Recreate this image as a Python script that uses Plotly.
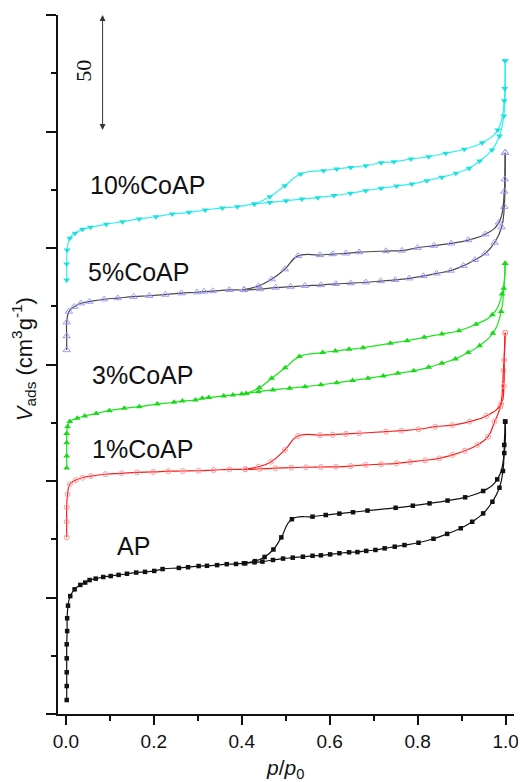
import plotly.graph_objects as go

# ---------------- data (p/p0, V_ads in cm3/g, offset curves) ----------------
ap_ads_x = [0.002, 0.002, 0.002, 0.002, 0.002, 0.003, 0.003, 0.005, 0.010, 0.020, 0.033, 0.044,
            0.054, 0.068, 0.085, 0.102, 0.120, 0.139, 0.160, 0.180, 0.201, 0.220, 0.257, 0.278,
            0.302, 0.321, 0.344, 0.366, 0.387, 0.408, 0.429, 0.447, 0.471, 0.494, 0.516, 0.539,
            0.561, 0.580, 0.601, 0.622, 0.644, 0.663, 0.683, 0.704, 0.725, 0.748, 0.770, 0.802,
            0.836, 0.867, 0.898, 0.924, 0.949, 0.970, 0.986, 0.994, 0.997, 0.999]
ap_ads_y = [6.0, 12.0, 17.9, 23.9, 29.9, 35.6, 41.1, 46.5, 50.6, 53.5, 55.4, 56.4,
            57.5, 58.1, 58.8, 59.2, 59.7, 60.2, 60.7, 61.0, 61.4, 62.2, 62.7, 63.0,
            63.5, 63.6, 63.9, 64.3, 64.4, 64.7, 65.1, 65.4, 66.1, 66.7, 67.1, 67.5,
            67.9, 68.1, 68.5, 69.0, 69.4, 69.5, 70.0, 70.4, 71.1, 71.8, 72.5, 73.5,
            75.2, 77.3, 79.7, 82.5, 86.1, 91.1, 97.1, 104.3, 115.5, 125.5]
ap_des_x = [0.999, 0.997, 0.981, 0.949, 0.908, 0.868, 0.827, 0.789, 0.750, 0.686, 0.653,
            0.622, 0.591, 0.561, 0.514, 0.490, 0.472, 0.452, 0.430, 0.405]
ap_des_y = [125.5, 112.0, 100.7, 95.7, 93.0, 91.6, 90.4, 89.4, 88.5, 87.3, 86.6,
            86.0, 85.4, 84.7, 83.6, 75.8, 70.6, 67.4, 65.6, 64.7]

co1_ads_x = [0.002, 0.002, 0.002, 0.004, 0.009, 0.023, 0.038, 0.057, 0.090, 0.127, 0.162, 0.199,
             0.233, 0.266, 0.302, 0.336, 0.372, 0.408, 0.441, 0.477, 0.513, 0.546, 0.580, 0.614,
             0.648, 0.682, 0.717, 0.752, 0.783, 0.817, 0.849, 0.879, 0.907, 0.936, 0.960, 0.975,
             0.988, 0.995, 0.999]
co1_ads_y = [75.8, 82.5, 88.7, 94.3, 98.6, 100.4, 101.4, 102.1, 102.9, 103.3, 103.7, 103.9,
             104.2, 104.3, 104.4, 104.7, 105.0, 105.0, 105.2, 105.5, 105.7, 105.9, 106.0, 106.1,
             106.4, 106.9, 107.2, 107.6, 108.2, 108.9, 109.7, 111.2, 113.0, 115.5, 119.0, 125.5,
             131.9, 147.3, 163.6]
co1_des_x = [0.999, 0.997, 0.996, 0.990, 0.956, 0.918, 0.879, 0.840, 0.802, 0.763, 0.728,
             0.667, 0.637, 0.607, 0.578, 0.528, 0.498, 0.467, 0.438, 0.408]
co1_des_y = [163.6, 151.9, 140.8, 133.1, 127.9, 125.5, 124.0, 123.3, 122.2, 121.6, 121.2,
             120.5, 120.2, 119.9, 119.7, 119.3, 113.3, 108.3, 106.1, 105.1]

co3_ads_x = [0.002, 0.002, 0.002, 0.002, 0.004, 0.009, 0.026, 0.043, 0.069, 0.099, 0.133, 0.167,
             0.208, 0.246, 0.265, 0.295, 0.310, 0.325, 0.359, 0.380, 0.400, 0.438, 0.471, 0.509,
             0.544, 0.580, 0.616, 0.652, 0.687, 0.722, 0.755, 0.791, 0.825, 0.855, 0.886, 0.915,
             0.941, 0.971, 0.990, 0.996, 0.999]
co3_ads_y = [105.6, 110.7, 116.4, 120.4, 123.3, 125.5, 126.9, 127.9, 129.0, 130.2, 131.2, 131.9,
             133.0, 133.8, 134.3, 134.8, 135.5, 135.8, 136.5, 136.9, 137.3, 138.3, 139.1, 139.8,
             140.5, 141.3, 142.2, 143.1, 144.1, 145.1, 146.2, 147.3, 148.8, 150.5, 152.4, 155.1,
             158.1, 163.4, 172.7, 182.7, 193.4]
co3_des_x = [0.999, 0.992, 0.970, 0.933, 0.894, 0.855, 0.815, 0.776, 0.738, 0.676, 0.644,
             0.613, 0.584, 0.531, 0.499, 0.468, 0.440, 0.410]
co3_des_y = [193.4, 180.3, 171.3, 167.3, 164.5, 163.1, 161.7, 160.2, 159.1, 157.2, 156.5,
             155.8, 155.1, 153.4, 148.6, 144.1, 140.0, 137.6]

co5_ads_x = [0.002, 0.002, 0.002, 0.007, 0.019, 0.034, 0.054, 0.087, 0.118, 0.154, 0.190, 0.226,
             0.263, 0.298, 0.314, 0.334, 0.372, 0.405, 0.441, 0.477, 0.511, 0.544, 0.580, 0.614,
             0.648, 0.682, 0.716, 0.749, 0.781, 0.813, 0.843, 0.875, 0.904, 0.930, 0.954, 0.975,
             0.991, 0.997, 0.999]
co5_ads_y = [156.2, 162.2, 168.1, 172.7, 174.8, 176.3, 177.0, 178.0, 178.5, 179.1, 179.5, 180.0,
             180.6, 181.0, 181.3, 181.5, 182.0, 182.0, 182.4, 183.0, 183.4, 183.8, 184.1, 184.6,
             184.9, 185.3, 185.8, 186.3, 187.0, 188.0, 189.1, 190.3, 192.4, 194.9, 197.7, 202.3,
             208.9, 217.7, 240.9]
co5_des_x = [0.999, 0.998, 0.997, 0.985, 0.954, 0.915, 0.876, 0.837, 0.800, 0.764, 0.728,
             0.667, 0.637, 0.607, 0.578, 0.528, 0.498, 0.468, 0.438, 0.405]
co5_des_y = [240.9, 229.5, 224.2, 211.0, 205.9, 203.4, 202.0, 201.0, 200.1, 198.9, 198.7,
             198.2, 197.7, 197.4, 197.0, 196.6, 190.9, 186.6, 183.7, 182.1]

co10_ads_x = [0.002, 0.002, 0.003, 0.009, 0.021, 0.038, 0.056, 0.092, 0.129, 0.167, 0.205, 0.242,
              0.280, 0.317, 0.356, 0.390, 0.429, 0.464, 0.501, 0.537, 0.573, 0.610, 0.647, 0.682,
              0.717, 0.752, 0.787, 0.821, 0.855, 0.887, 0.917, 0.941, 0.969, 0.986, 0.996, 0.999]
co10_ads_y = [186.3, 193.1, 199.1, 204.2, 206.3, 208.0, 208.9, 210.2, 211.3, 212.5, 213.4, 214.6,
              215.3, 216.3, 217.2, 217.7, 218.9, 219.5, 220.3, 221.0, 221.6, 222.5, 223.5, 224.6,
              225.6, 226.6, 227.5, 228.9, 230.4, 232.1, 234.2, 237.3, 242.1, 248.1, 256.7, 280.4]
co10_des_x = [0.999, 0.998, 0.997, 0.982, 0.947, 0.906, 0.864, 0.825, 0.785, 0.746, 0.717,
              0.682, 0.648, 0.616, 0.586, 0.534, 0.498, 0.464, 0.429]
co10_des_y = [280.4, 268.5, 263.2, 250.6, 245.2, 242.4, 240.7, 239.2, 238.2, 237.0, 236.6,
              235.3, 234.6, 233.9, 233.2, 231.8, 226.7, 222.0, 218.9]

labels = ["AP", "1%CoAP", "3%CoAP", "5%CoAP", "10%CoAP"]
label_x = [0.111, 0.054, 0.054, 0.045, 0.050]
label_y = [72.1, 113.7, 145.5, 189.8, 227.0]

x_tickvals = [0.0, 0.2, 0.4, 0.6, 0.8, 1.0]
x_ticktext = ["0.0", "0.2", "0.4", "0.6", "0.8", "1.0"]
y_tickvals = [0, 50, 100, 150, 200, 250, 300]
scale_bar = [250, 300]

# ---------------- styles ----------------
series = [
    (ap_ads_x, ap_ads_y, ap_des_x, ap_des_y, "#111111",
     dict(symbol="square", size=4.5, color="#111111")),
    (co1_ads_x, co1_ads_y, co1_des_x, co1_des_y, "#FF1A1A",
     dict(symbol="circle-open", size=5, color="#FF9A9A", line=dict(width=1, color="#FF9A9A"))),
    (co3_ads_x, co3_ads_y, co3_des_x, co3_des_y, "#19E619",
     dict(symbol="triangle-up", size=6, color="#19D919")),
    (co5_ads_x, co5_ads_y, co5_des_x, co5_des_y, "#4A4A4A",
     dict(symbol="triangle-up-open", size=6.5, color="#9A9AFF", line=dict(width=1, color="#9A9AFF"))),
    (co10_ads_x, co10_ads_y, co10_des_x, co10_des_y, "#33F0F0",
     dict(symbol="triangle-down", size=6, color="#1CE0E0")),
]

fig = go.Figure()
for ax_, ay_, dx_, dy_, lc, mk in series:
    for xs, ys in ((ax_, ay_), (dx_, dy_)):
        fig.add_trace(go.Scatter(
            x=xs, y=ys, mode="lines+markers",
            line=dict(color=lc, width=1.2, shape="spline", smoothing=1.3),
            marker=mk, showlegend=False, cliponaxis=False,
        ))

font_main = "Liberation Sans, Arial, sans-serif"

annotations = []
for t, lx, ly in zip(labels, label_x, label_y):
    annotations.append(dict(x=lx, y=ly, xref="x", yref="y", text=t, showarrow=False,
                            xanchor="left", yanchor="middle",
                            font=dict(family=font_main, size=25, color="#111111")))

# scale bar
annotations.append(dict(x=0.0836, y=scale_bar[1], ax=0.0836, ay=scale_bar[0],
                        xref="x", yref="y", axref="x", ayref="y", text="",
                        showarrow=True, arrowhead=2, arrowsize=1.2, arrowwidth=1,
                        arrowside="end+start", arrowcolor="#333333", standoff=0, startstandoff=0))
annotations.append(dict(x=0.041, y=276.0, xref="x", yref="y", text="50", showarrow=False,
                        textangle=-90, xanchor="center", yanchor="middle",
                        font=dict(family="Liberation Serif, Times New Roman, serif", size=22,
                                  color="#111111")))
# axis titles
annotations.append(dict(x=0.498, y=-0.078, xref="paper", yref="paper",
                        text="<i>p</i>/<i>p</i><sub>0</sub>", showarrow=False,
                        xanchor="center", yanchor="middle",
                        font=dict(family=font_main, size=21, color="#111111")))
annotations.append(dict(x=-0.074, y=0.508, xref="paper", yref="paper",
                        text="<i>V</i><sub>ads</sub> (cm<sup>3</sup>g<sup>-1</sup>)",
                        showarrow=False, textangle=-90, xanchor="center", yanchor="middle",
                        font=dict(family=font_main, size=22, color="#111111")))

# page body has an 8px margin: figure is sized/positioned to compensate
fig.update_layout(
    width=518, height=774,
    margin=dict(l=50, r=8, t=7, b=68),
    paper_bgcolor="white", plot_bgcolor="white",
    annotations=annotations,
    xaxis=dict(range=[-0.0178, 1.0191], showgrid=False, zeroline=False,
               showline=True, linecolor="#111111", linewidth=1.5,
               ticks="outside", ticklen=9, tickwidth=1.5, tickcolor="#111111",
               tickvals=x_tickvals, ticktext=x_ticktext,
               tickfont=dict(family=font_main, size=19, color="#111111"),
               minor=dict(ticks="outside", ticklen=5, tickwidth=1.5, tickcolor="#111111",
                          tickvals=[0.1, 0.3, 0.5, 0.7, 0.9])),
    yaxis=dict(range=[0, 300], showgrid=False, zeroline=False,
               showline=True, linecolor="#111111", linewidth=1.5,
               ticks="outside", ticklen=10, tickwidth=1.5, tickcolor="#111111",
               tickvals=y_tickvals, showticklabels=False,
               minor=dict(ticks="outside", ticklen=5, tickwidth=1.5, tickcolor="#111111",
                          tickvals=[25, 75, 125, 175, 225, 275])),
)

fig.write_html("out.html")
